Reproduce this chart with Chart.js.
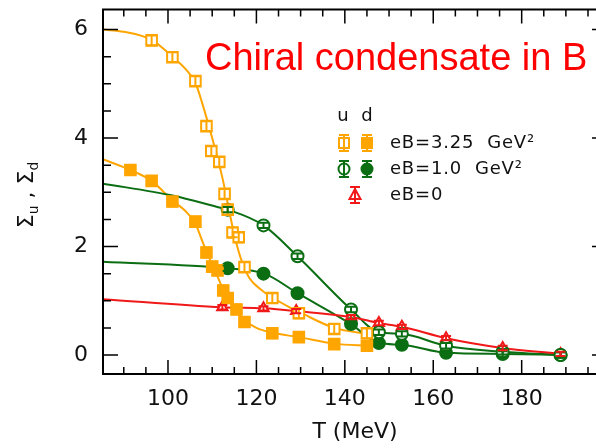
<!DOCTYPE html>
<html>
<head>
<meta charset="utf-8">
<script src="https://cdn.jsdelivr.net/npm/chart.js@4.4.0/dist/chart.umd.min.js"></script>
<style>
  body { margin: 0; background: #fff; overflow: hidden; }
  #wrap { position: relative; width: 620px; height: 448px; }
  #title {
    position: absolute; left: 205px; top: 39px;
    font-family: "Liberation Sans", Arial, sans-serif; font-size: 38px; line-height: 37px;
    color: #ff0000; white-space: nowrap;
  }
</style>
</head>
<body>
<div id="wrap">
  <canvas id="chart" width="620" height="448"></canvas>
  <div id="title">Chiral condensate in B</div>
</div>
<script>
// axis ranges / ticks
const tMin = 85.3, tMax = 199.3;
const sMin = -0.35, sMax = 6.37;
const xTicks = [100, 120, 140, 160, 180];
const yTicks = [0, 2, 4, 6];

// eB = 3.25 GeV^2, u quark (open squares)
const tU325 = [96.3, 101, 106.2, 108.7, 109.8, 111.6, 112.8, 113.5, 114.6, 116, 117.3, 123.6, 129.6, 137.6, 145];
const sU325 = [5.80, 5.49, 5.05, 4.22, 3.76, 3.56, 2.97, 2.68, 2.26, 2.17, 1.62, 1.05, 0.77, 0.48, 0.40];
// eB = 3.25 GeV^2, d quark (filled squares)
const tD325 = [91.5, 96.3, 101, 106.2, 108.7, 110, 111.2, 112.5, 113.5, 115.5, 117.3, 123.6, 129.6, 137.6, 145];
const sD325 = [3.41, 3.21, 2.83, 2.46, 1.89, 1.63, 1.56, 1.19, 1.05, 0.84, 0.61, 0.40, 0.33, 0.20, 0.17];
// eB = 1.0 GeV^2 (u open, d filled)
const tB10 = [113.5, 121.6, 129.3, 141.4, 147.7, 152.9, 162.9, 175.7, 188.8];
const sU10 = [2.68, 2.39, 1.82, 0.84, 0.42, 0.39, 0.17, 0.06, 0.0];
const sD10 = [1.60, 1.50, 1.14, 0.57, 0.22, 0.19, 0.04, 0.02, 0.0];
// eB = 0
const tB0 = [112.3, 121.6, 129, 141.4, 147.7, 152.9, 162.9, 175.7, 188.8];
const sB0 = [0.88, 0.86, 0.81, 0.70, 0.59, 0.52, 0.31, 0.13, 0.02];

// fitted curves
const fitTU325 = [85.3, 90, 96.3, 101, 104, 106.2, 107.6, 110, 112.3, 113.5, 114.5, 115.5, 116.6, 118.4, 121.3, 123.6, 127.5, 130, 137.6, 145, 147.5];
const fitSU325 = [6.0, 5.96, 5.81, 5.5, 5.27, 5.02, 4.68, 4.0, 3.27, 2.8, 2.4, 2.05, 1.75, 1.42, 1.19, 1.06, 0.88, 0.78, 0.5, 0.39, 0.36];
const fitTD325 = [85.3, 91.5, 96.3, 101, 104, 106.2, 108, 109.6, 111.1, 112.5, 114.8, 117.3, 120, 123.6, 129.6, 137.6, 145, 147.5];
const fitSD325 = [3.61, 3.41, 3.21, 2.85, 2.65, 2.42, 2.05, 1.74, 1.47, 1.2, 0.88, 0.64, 0.5, 0.41, 0.33, 0.21, 0.17, 0.16];
const fitTU10 = [85.3, 101, 111.6, 113.5, 121.6, 129.3, 141.4, 147.7, 152.9, 162.9, 175.7, 188.8];
const fitSU10 = [3.16, 2.94, 2.72, 2.68, 2.39, 1.82, 0.84, 0.42, 0.39, 0.17, 0.06, 0.0];
const fitTD10 = [85.3, 113.2, 121.8, 129.3, 141.4, 147.7, 152.9, 162.9, 175.7, 188.8];
const fitSD10 = [1.72, 1.60, 1.50, 1.14, 0.57, 0.22, 0.19, 0.04, 0.02, 0.0];
const fitTB0 = [85.3, 112.3, 121.6, 129, 141.4, 147.7, 152.9, 162.9, 175.7, 188.8];
const fitSB0 = [1.03, 0.88, 0.86, 0.81, 0.70, 0.59, 0.52, 0.31, 0.13, 0.02];

const ORANGE = '#ffa500', GREEN = '#0b6e13', RED = '#f01818';
const FONT = '"DejaVu Sans", "Liberation Sans", sans-serif';

const xy = (ts, ss) => ts.map((t, i) => ({ x: t, y: ss[i] }));

function pointSet(ts, ss, color, style, open, r, err) {
    return {
        data: xy(ts, ss),
        showLine: false,
        pointStyle: style,
        pointRadius: r,
        pointBorderWidth: 2,
        pointBorderColor: color,
        pointBackgroundColor: open ? '#fff' : color,
        borderColor: color,
        errSize: err
    };
}

function curveSet(ts, ss, color) {
    return {
        data: xy(ts, ss),
        borderColor: color,
        borderWidth: 2,
        pointRadius: 0,
        cubicInterpolationMode: 'monotone',
        fill: false
    };
}

// =========================
// error bars
// =========================
const errorBars = {
    id: 'errorBars',
    afterDatasetsDraw(chart) {
        const ctx = chart.ctx;
        const y = chart.scales.y;
        chart.data.datasets.forEach((ds, di) => {
            if (!ds.errSize) return;
            const meta = chart.getDatasetMeta(di);
            ctx.save();
            ctx.strokeStyle = ds.borderColor;
            ctx.lineWidth = 2;
            meta.data.forEach((pt, i) => {
                const v = ds.data[i].y;
                const y1 = y.getPixelForValue(v + ds.errSize);
                const y2 = y.getPixelForValue(v - ds.errSize);
                const w = 5;
                ctx.beginPath();
                ctx.moveTo(pt.x, y1); ctx.lineTo(pt.x, y2);
                ctx.moveTo(pt.x - w, y1); ctx.lineTo(pt.x + w, y1);
                ctx.moveTo(pt.x - w, y2); ctx.lineTo(pt.x + w, y2);
                ctx.stroke();
            });
            ctx.restore();
        });
    }
};

// =========================
// frame, inward ticks, axis titles, legend
// =========================
function marker(ctx, x, y, style, color, open) {
    ctx.save();
    ctx.strokeStyle = color;
    ctx.fillStyle = open ? '#fff' : color;
    ctx.lineWidth = 2;
    ctx.beginPath();
    if (style === 'rect') ctx.rect(x - 5, y - 5, 10, 10);
    else if (style === 'circle') ctx.arc(x, y, 5.5, 0, Math.PI * 2);
    else { ctx.moveTo(x, y - 6); ctx.lineTo(x + 5.5, y + 4); ctx.lineTo(x - 5.5, y + 4); ctx.closePath(); }
    ctx.fill(); ctx.stroke();
    ctx.beginPath();
    ctx.moveTo(x, y - 8); ctx.lineTo(x, y + 8);
    ctx.moveTo(x - 5, y - 8); ctx.lineTo(x + 5, y - 8);
    ctx.moveTo(x - 5, y + 8); ctx.lineTo(x + 5, y + 8);
    ctx.stroke();
    ctx.restore();
}

const frame = {
    id: 'frame',
    afterDraw(chart) {
        const { ctx, chartArea: { left, right, top, bottom }, scales: { x, y } } = chart;
        ctx.save();
        ctx.strokeStyle = '#000';
        ctx.lineWidth = 2;
        ctx.strokeRect(left, top, right - left, bottom - top);
        ctx.lineWidth = 1.5;
        ctx.beginPath();
        for (let t = 85; t <= 200; t += 5) {
            const px = x.getPixelForValue(t);
            if (px <= left + 1 || px >= right - 1) continue;
            const len = t % 20 === 0 ? 14 : 7;
            ctx.moveTo(px, bottom); ctx.lineTo(px, bottom - len);
            ctx.moveTo(px, top); ctx.lineTo(px, top + len);
        }
        for (let k = 0; k <= 12; k++) {
            const v = k * 0.5;
            const py = y.getPixelForValue(v);
            const len = v % 2 === 0 ? 15 : 8;
            ctx.moveTo(left, py); ctx.lineTo(left + len, py);
            ctx.moveTo(right, py); ctx.lineTo(right - len, py);
        }
        ctx.stroke();

        // x title
        ctx.fillStyle = '#111';
        ctx.font = '22px ' + FONT;
        ctx.textAlign = 'center';
        ctx.textBaseline = 'middle';
        ctx.fillText('T (MeV)', 355, 432);

        // y title, rotated
        ctx.save();
        ctx.translate(25, 195);
        ctx.rotate(-Math.PI / 2);
        ctx.textAlign = 'left';
        ctx.textBaseline = 'alphabetic';
        const big = '22px ' + FONT, small = '14px ' + FONT;
        const parts = [['Σ', big, 0], ['u', small, 5], [' , ', big, 0], ['Σ', big, 0], ['d', small, 5]];
        let w = 0;
        parts.forEach(p => { ctx.font = p[1]; w += ctx.measureText(p[0]).width; });
        let cx = -w / 2;
        parts.forEach(p => {
            ctx.font = p[1];
            ctx.fillText(p[0], cx, 8 + p[2]);
            cx += ctx.measureText(p[0]).width;
        });
        ctx.restore();

        // legend
        ctx.font = '18px ' + FONT;
        ctx.textAlign = 'center';
        ctx.fillText('u', 343, 116);
        ctx.fillText('d', 367, 116);
        marker(ctx, 344, 143, 'rect', ORANGE, true);
        marker(ctx, 367, 143, 'rect', ORANGE, false);
        marker(ctx, 344, 169, 'circle', GREEN, true);
        marker(ctx, 367, 169, 'circle', GREEN, false);
        marker(ctx, 355, 195, 'triangle', RED, true);
        ctx.textAlign = 'left';
        ctx.letterSpacing = '0.8px';
        ctx.fillText('eB=3.25  GeV²', 390, 143);
        ctx.fillText('eB=1.0  GeV²', 390, 169);
        ctx.fillText('eB=0', 390, 195);
        ctx.restore();
    }
};

new Chart(document.getElementById('chart').getContext('2d'), {
    type: 'line',
    data: {
        datasets: [
            pointSet(tU325, sU325, ORANGE, 'rect', true, 7.5, 0.09),
            pointSet(tD325, sD325, ORANGE, 'rect', false, 7.5, 0.09),
            pointSet(tB10, sU10, GREEN, 'circle', true, 6, 0.05),
            pointSet(tB10, sD10, GREEN, 'circle', false, 6, 0.05),
            pointSet(tB0, sB0, RED, 'triangle', true, 6, 0.04),
            curveSet(fitTB0, fitSB0, RED),
            curveSet(fitTD10, fitSD10, GREEN),
            curveSet(fitTU10, fitSU10, GREEN),
            curveSet(fitTD325, fitSD325, ORANGE),
            curveSet(fitTU325, fitSU325, ORANGE)
        ]
    },
    options: {
        responsive: false,
        animation: false,
        layout: { padding: { top: 8, right: 13, left: 0, bottom: 0 } },
        plugins: { legend: { display: false }, tooltip: { enabled: false } },
        scales: {
            x: {
                type: 'linear',
                min: tMin, max: tMax,
                afterBuildTicks: s => { s.ticks = xTicks.map(v => ({ value: v })); },
                afterFit: s => { s.height = 74; s.paddingLeft = 0; s.paddingRight = 0; },
                grid: { display: false, drawTicks: false },
                border: { display: false },
                ticks: { padding: 12, color: '#111', font: { family: FONT, size: 22 } }
            },
            y: {
                type: 'linear',
                min: sMin, max: sMax,
                afterBuildTicks: s => { s.ticks = yTicks.map(v => ({ value: v })); },
                afterFit: s => { s.width = 103; s.paddingTop = 0; s.paddingBottom = 0; },
                grid: { display: false, drawTicks: false },
                border: { display: false },
                ticks: { padding: 15, color: '#111', font: { family: FONT, size: 22 } }
            }
        }
    },
    plugins: [errorBars, frame]
});
</script>
</body>
</html>
